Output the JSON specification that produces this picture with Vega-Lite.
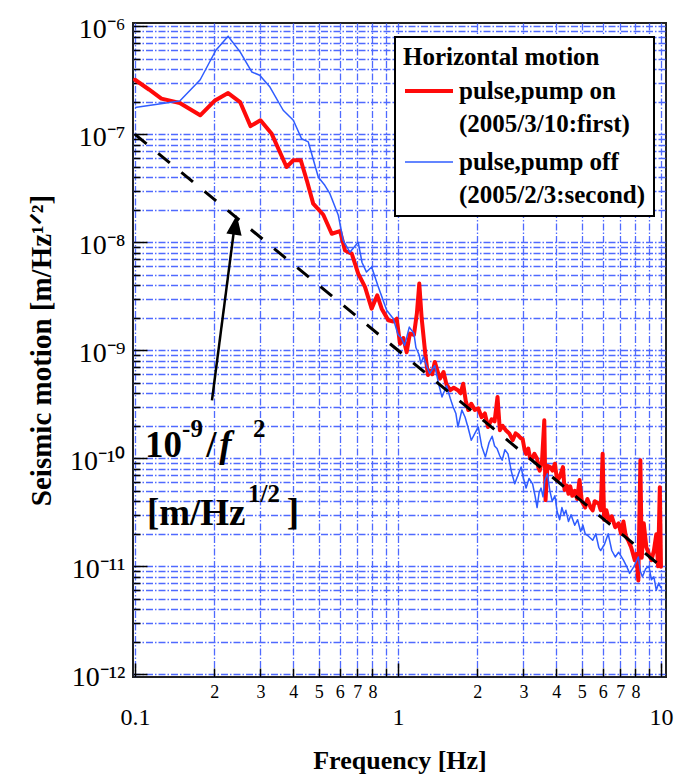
{
  "$schema": "https://vega.github.io/schema/vega-lite/v6.json",
  "width": 533,
  "height": 654,
  "autosize": "none",
  "padding": {"left": 133, "top": 23, "right": 13, "bottom": 99},
  "background": "white",
  "config": {
    "view": {"stroke": "#222222", "strokeWidth": 2},
    "font": "Liberation Serif",
    "style": {"guide-label": {"lineHeight": 33}},
    "legend": {"strokeWidth": 2}
  },
  "datasets": {
    "series": [
      {"f":0.1,"v":3.2e-7,"s":"pulse,pump on"},{"f":0.113,"v":2.6e-7,"s":"pulse,pump on"},{"f":0.126,"v":2.14e-7,"s":"pulse,pump on"},{"f":0.148,"v":1.95e-7,"s":"pulse,pump on"},{"f":0.177,"v":1.5e-7,"s":"pulse,pump on"},{"f":0.2015,"v":2.06e-7,"s":"pulse,pump on"},{"f":0.226,"v":2.41e-7,"s":"pulse,pump on"},{"f":0.251,"v":1.99e-7,"s":"pulse,pump on"},{"f":0.275,"v":1.19e-7,"s":"pulse,pump on"},{"f":0.3,"v":1.35e-7,"s":"pulse,pump on"},{"f":0.331,"v":1.01e-7,"s":"pulse,pump on"},{"f":0.377,"v":4.98e-8,"s":"pulse,pump on"},{"f":0.4,"v":5.75e-8,"s":"pulse,pump on"},{"f":0.427,"v":5.75e-8,"s":"pulse,pump on"},{"f":0.45,"v":3.75e-8,"s":"pulse,pump on"},{"f":0.476,"v":2.28e-8,"s":"pulse,pump on"},{"f":0.52,"v":1.8e-8,"s":"pulse,pump on"},{"f":0.56,"v":1.2e-8,"s":"pulse,pump on"},{"f":0.602,"v":1.27e-8,"s":"pulse,pump on"},{"f":0.629,"v":8.4e-9,"s":"pulse,pump on"},{"f":0.667,"v":7.85e-9,"s":"pulse,pump on"},{"f":0.706,"v":5.13e-9,"s":"pulse,pump on"},{"f":0.749,"v":3.86e-9,"s":"pulse,pump on"},{"f":0.794,"v":2.43e-9,"s":"pulse,pump on"},{"f":0.834,"v":3.23e-9,"s":"pulse,pump on"},{"f":0.867,"v":2.43e-9,"s":"pulse,pump on"},{"f":0.919,"v":1.9e-9,"s":"pulse,pump on"},{"f":0.96,"v":1.85e-9,"s":"pulse,pump on"},{"f":0.989,"v":1.96e-9,"s":"pulse,pump on"},{"f":1.018,"v":1.15e-9,"s":"pulse,pump on"},{"f":1.048,"v":1.3e-9,"s":"pulse,pump on"},{"f":1.079,"v":9.6e-10,"s":"pulse,pump on"},{"f":1.11,"v":1.43e-9,"s":"pulse,pump on"},{"f":1.15,"v":1.39e-9,"s":"pulse,pump on"},{"f":1.18,"v":2.2e-9,"s":"pulse,pump on"},{"f":1.205,"v":4.15e-9,"s":"pulse,pump on"},{"f":1.23,"v":2.0e-9,"s":"pulse,pump on"},{"f":1.27,"v":9.3e-10,"s":"pulse,pump on"},{"f":1.3,"v":5.9e-10,"s":"pulse,pump on"},{"f":1.32,"v":6.5e-10,"s":"pulse,pump on"},{"f":1.35,"v":6.0e-10,"s":"pulse,pump on"},{"f":1.38,"v":7.8e-10,"s":"pulse,pump on"},{"f":1.42,"v":6.2e-10,"s":"pulse,pump on"},{"f":1.445,"v":5.47e-10,"s":"pulse,pump on"},{"f":1.49,"v":6.3e-10,"s":"pulse,pump on"},{"f":1.53,"v":4.8e-10,"s":"pulse,pump on"},{"f":1.58,"v":4.27e-10,"s":"pulse,pump on"},{"f":1.63,"v":4.5e-10,"s":"pulse,pump on"},{"f":1.69,"v":4.27e-10,"s":"pulse,pump on"},{"f":1.73,"v":4.0e-10,"s":"pulse,pump on"},{"f":1.77,"v":4.9e-10,"s":"pulse,pump on"},{"f":1.81,"v":3.4e-10,"s":"pulse,pump on"},{"f":1.85,"v":2.8e-10,"s":"pulse,pump on"},{"f":1.9,"v":3.2e-10,"s":"pulse,pump on"},{"f":1.96,"v":2.8e-10,"s":"pulse,pump on"},{"f":2.02,"v":2.9e-10,"s":"pulse,pump on"},{"f":2.08,"v":2.4e-10,"s":"pulse,pump on"},{"f":2.14,"v":2.6e-10,"s":"pulse,pump on"},{"f":2.2,"v":1.95e-10,"s":"pulse,pump on"},{"f":2.27,"v":2.3e-10,"s":"pulse,pump on"},{"f":2.33,"v":2.2e-10,"s":"pulse,pump on"},{"f":2.39,"v":3.7e-10,"s":"pulse,pump on"},{"f":2.44,"v":1.82e-10,"s":"pulse,pump on"},{"f":2.5,"v":2.0e-10,"s":"pulse,pump on"},{"f":2.57,"v":1.82e-10,"s":"pulse,pump on"},{"f":2.65,"v":1.7e-10,"s":"pulse,pump on"},{"f":2.73,"v":1.47e-10,"s":"pulse,pump on"},{"f":2.8,"v":1.7e-10,"s":"pulse,pump on"},{"f":2.86,"v":1.64e-10,"s":"pulse,pump on"},{"f":2.92,"v":1.55e-10,"s":"pulse,pump on"},{"f":2.98,"v":1.5e-10,"s":"pulse,pump on"},{"f":3.03,"v":1.2e-10,"s":"pulse,pump on"},{"f":3.07,"v":1.1e-10,"s":"pulse,pump on"},{"f":3.13,"v":1.23e-10,"s":"pulse,pump on"},{"f":3.18,"v":1.0e-10,"s":"pulse,pump on"},{"f":3.23,"v":9.9e-11,"s":"pulse,pump on"},{"f":3.3,"v":1.1e-10,"s":"pulse,pump on"},{"f":3.38,"v":9.9e-11,"s":"pulse,pump on"},{"f":3.42,"v":8.2e-11,"s":"pulse,pump on"},{"f":3.46,"v":7.7e-11,"s":"pulse,pump on"},{"f":3.53,"v":9.5e-11,"s":"pulse,pump on"},{"f":3.6,"v":2.25e-10,"s":"pulse,pump on"},{"f":3.64,"v":4.1e-11,"s":"pulse,pump on"},{"f":3.7,"v":8.5e-11,"s":"pulse,pump on"},{"f":3.79,"v":8.3e-11,"s":"pulse,pump on"},{"f":3.87,"v":7.7e-11,"s":"pulse,pump on"},{"f":3.95,"v":8.9e-11,"s":"pulse,pump on"},{"f":4.03,"v":6.2e-11,"s":"pulse,pump on"},{"f":4.12,"v":6.7e-11,"s":"pulse,pump on"},{"f":4.18,"v":7.5e-11,"s":"pulse,pump on"},{"f":4.24,"v":8.3e-11,"s":"pulse,pump on"},{"f":4.3,"v":5.1e-11,"s":"pulse,pump on"},{"f":4.38,"v":5.6e-11,"s":"pulse,pump on"},{"f":4.45,"v":4.7e-11,"s":"pulse,pump on"},{"f":4.52,"v":5.5e-11,"s":"pulse,pump on"},{"f":4.6,"v":4.5e-11,"s":"pulse,pump on"},{"f":4.7,"v":5.0e-11,"s":"pulse,pump on"},{"f":4.8,"v":4.2e-11,"s":"pulse,pump on"},{"f":4.9,"v":6.3e-11,"s":"pulse,pump on"},{"f":5.0,"v":4.0e-11,"s":"pulse,pump on"},{"f":5.15,"v":3.5e-11,"s":"pulse,pump on"},{"f":5.25,"v":4.2e-11,"s":"pulse,pump on"},{"f":5.4,"v":3.5e-11,"s":"pulse,pump on"},{"f":5.5,"v":3.3e-11,"s":"pulse,pump on"},{"f":5.6,"v":4.0e-11,"s":"pulse,pump on"},{"f":5.8,"v":3.8e-11,"s":"pulse,pump on"},{"f":5.9,"v":3.3e-11,"s":"pulse,pump on"},{"f":6.0,"v":1.1e-10,"s":"pulse,pump on"},{"f":6.08,"v":2.7e-11,"s":"pulse,pump on"},{"f":6.2,"v":3.3e-11,"s":"pulse,pump on"},{"f":6.35,"v":2.6e-11,"s":"pulse,pump on"},{"f":6.5,"v":2.9e-11,"s":"pulse,pump on"},{"f":6.7,"v":2.3e-11,"s":"pulse,pump on"},{"f":6.9,"v":2.5e-11,"s":"pulse,pump on"},{"f":7.05,"v":2.0e-11,"s":"pulse,pump on"},{"f":7.2,"v":2.6e-11,"s":"pulse,pump on"},{"f":7.35,"v":1.9e-11,"s":"pulse,pump on"},{"f":7.5,"v":1.74e-11,"s":"pulse,pump on"},{"f":7.7,"v":1.5e-11,"s":"pulse,pump on"},{"f":7.95,"v":1.14e-11,"s":"pulse,pump on"},{"f":8.05,"v":1.3e-11,"s":"pulse,pump on"},{"f":8.2,"v":7.4e-12,"s":"pulse,pump on"},{"f":8.35,"v":9.6e-11,"s":"pulse,pump on"},{"f":8.45,"v":1.2e-11,"s":"pulse,pump on"},{"f":8.6,"v":2.5e-11,"s":"pulse,pump on"},{"f":8.8,"v":1.5e-11,"s":"pulse,pump on"},{"f":9.0,"v":1.3e-11,"s":"pulse,pump on"},{"f":9.2,"v":1.14e-11,"s":"pulse,pump on"},{"f":9.4,"v":1.4e-11,"s":"pulse,pump on"},{"f":9.6,"v":1.98e-11,"s":"pulse,pump on"},{"f":9.75,"v":1.0e-11,"s":"pulse,pump on"},{"f":9.9,"v":5.4e-11,"s":"pulse,pump on"},{"f":10.0,"v":9.9e-12,"s":"pulse,pump on"},
      {"f":0.1,"v":1.77e-7,"s":"pulse,pump off"},{"f":0.148,"v":2.03e-7,"s":"pulse,pump off"},{"f":0.177,"v":3.2e-7,"s":"pulse,pump off"},{"f":0.203,"v":6.0e-7,"s":"pulse,pump off"},{"f":0.226,"v":8.1e-7,"s":"pulse,pump off"},{"f":0.251,"v":5.8e-7,"s":"pulse,pump off"},{"f":0.278,"v":3.78e-7,"s":"pulse,pump off"},{"f":0.298,"v":3.52e-7,"s":"pulse,pump off"},{"f":0.326,"v":2.74e-7,"s":"pulse,pump off"},{"f":0.366,"v":1.67e-7,"s":"pulse,pump off"},{"f":0.4,"v":1.35e-7,"s":"pulse,pump off"},{"f":0.43,"v":9.1e-8,"s":"pulse,pump off"},{"f":0.456,"v":8.5e-8,"s":"pulse,pump off"},{"f":0.498,"v":4.0e-8,"s":"pulse,pump off"},{"f":0.527,"v":3.37e-8,"s":"pulse,pump off"},{"f":0.551,"v":2.82e-8,"s":"pulse,pump off"},{"f":0.593,"v":1.78e-8,"s":"pulse,pump off"},{"f":0.619,"v":1.04e-8,"s":"pulse,pump off"},{"f":0.656,"v":8.1e-9,"s":"pulse,pump off"},{"f":0.706,"v":1.0e-8,"s":"pulse,pump off"},{"f":0.73,"v":6.5e-9,"s":"pulse,pump off"},{"f":0.759,"v":5.3e-9,"s":"pulse,pump off"},{"f":0.794,"v":5.9e-9,"s":"pulse,pump off"},{"f":0.842,"v":3.86e-9,"s":"pulse,pump off"},{"f":0.906,"v":2.35e-9,"s":"pulse,pump off"},{"f":0.96,"v":1.96e-9,"s":"pulse,pump off"},{"f":1.0,"v":1.4e-9,"s":"pulse,pump off"},{"f":1.03,"v":1.3e-9,"s":"pulse,pump off"},{"f":1.06,"v":1.11e-9,"s":"pulse,pump off"},{"f":1.104,"v":1.64e-9,"s":"pulse,pump off"},{"f":1.15,"v":1.43e-9,"s":"pulse,pump off"},{"f":1.17,"v":1.06e-9,"s":"pulse,pump off"},{"f":1.205,"v":9e-10,"s":"pulse,pump off"},{"f":1.22,"v":7.5e-10,"s":"pulse,pump off"},{"f":1.25,"v":8.7e-10,"s":"pulse,pump off"},{"f":1.29,"v":7.0e-10,"s":"pulse,pump off"},{"f":1.32,"v":6.1e-10,"s":"pulse,pump off"},{"f":1.38,"v":7.2e-10,"s":"pulse,pump off"},{"f":1.43,"v":4.8e-10,"s":"pulse,pump off"},{"f":1.47,"v":3.7e-10,"s":"pulse,pump off"},{"f":1.53,"v":4.7e-10,"s":"pulse,pump off"},{"f":1.58,"v":3.6e-10,"s":"pulse,pump off"},{"f":1.62,"v":3.0e-10,"s":"pulse,pump off"},{"f":1.66,"v":2.6e-10,"s":"pulse,pump off"},{"f":1.69,"v":1.95e-10,"s":"pulse,pump off"},{"f":1.75,"v":2.8e-10,"s":"pulse,pump off"},{"f":1.8,"v":2.4e-10,"s":"pulse,pump off"},{"f":1.85,"v":1.9e-10,"s":"pulse,pump off"},{"f":1.9,"v":1.47e-10,"s":"pulse,pump off"},{"f":1.96,"v":1.7e-10,"s":"pulse,pump off"},{"f":2.02,"v":1.95e-10,"s":"pulse,pump off"},{"f":2.08,"v":1.3e-10,"s":"pulse,pump off"},{"f":2.15,"v":1.03e-10,"s":"pulse,pump off"},{"f":2.22,"v":1.4e-10,"s":"pulse,pump off"},{"f":2.28,"v":1.6e-10,"s":"pulse,pump off"},{"f":2.33,"v":1.3e-10,"s":"pulse,pump off"},{"f":2.38,"v":1.23e-10,"s":"pulse,pump off"},{"f":2.44,"v":1.05e-10,"s":"pulse,pump off"},{"f":2.49,"v":9.6e-11,"s":"pulse,pump off"},{"f":2.55,"v":1.2e-10,"s":"pulse,pump off"},{"f":2.62,"v":1.1e-10,"s":"pulse,pump off"},{"f":2.7,"v":7.5e-11,"s":"pulse,pump off"},{"f":2.78,"v":5.8e-11,"s":"pulse,pump off"},{"f":2.86,"v":7.0e-11,"s":"pulse,pump off"},{"f":2.94,"v":8.3e-11,"s":"pulse,pump off"},{"f":3.0,"v":6.5e-11,"s":"pulse,pump off"},{"f":3.07,"v":5.3e-11,"s":"pulse,pump off"},{"f":3.15,"v":6.5e-11,"s":"pulse,pump off"},{"f":3.25,"v":5.8e-11,"s":"pulse,pump off"},{"f":3.32,"v":4.5e-11,"s":"pulse,pump off"},{"f":3.38,"v":3.5e-11,"s":"pulse,pump off"},{"f":3.44,"v":4.8e-11,"s":"pulse,pump off"},{"f":3.5,"v":5.3e-11,"s":"pulse,pump off"},{"f":3.56,"v":4.4e-11,"s":"pulse,pump off"},{"f":3.62,"v":6.3e-11,"s":"pulse,pump off"},{"f":3.7,"v":7.2e-11,"s":"pulse,pump off"},{"f":3.78,"v":5.0e-11,"s":"pulse,pump off"},{"f":3.86,"v":4.0e-11,"s":"pulse,pump off"},{"f":3.95,"v":4.5e-11,"s":"pulse,pump off"},{"f":4.03,"v":3.2e-11,"s":"pulse,pump off"},{"f":4.12,"v":2.7e-11,"s":"pulse,pump off"},{"f":4.2,"v":3.5e-11,"s":"pulse,pump off"},{"f":4.28,"v":3.0e-11,"s":"pulse,pump off"},{"f":4.35,"v":3.3e-11,"s":"pulse,pump off"},{"f":4.45,"v":2.6e-11,"s":"pulse,pump off"},{"f":4.55,"v":3.0e-11,"s":"pulse,pump off"},{"f":4.7,"v":2.4e-11,"s":"pulse,pump off"},{"f":4.82,"v":2.7e-11,"s":"pulse,pump off"},{"f":4.95,"v":2.1e-11,"s":"pulse,pump off"},{"f":5.05,"v":2.4e-11,"s":"pulse,pump off"},{"f":5.15,"v":2.0e-11,"s":"pulse,pump off"},{"f":5.3,"v":1.9e-11,"s":"pulse,pump off"},{"f":5.5,"v":1.74e-11,"s":"pulse,pump off"},{"f":5.65,"v":2.0e-11,"s":"pulse,pump off"},{"f":5.8,"v":1.5e-11,"s":"pulse,pump off"},{"f":5.9,"v":1.4e-11,"s":"pulse,pump off"},{"f":6.1,"v":1.6e-11,"s":"pulse,pump off"},{"f":6.3,"v":2.0e-11,"s":"pulse,pump off"},{"f":6.5,"v":1.4e-11,"s":"pulse,pump off"},{"f":6.7,"v":1.22e-11,"s":"pulse,pump off"},{"f":6.9,"v":1.35e-11,"s":"pulse,pump off"},{"f":7.2,"v":1.14e-11,"s":"pulse,pump off"},{"f":7.4,"v":1.0e-11,"s":"pulse,pump off"},{"f":7.6,"v":8.6e-12,"s":"pulse,pump off"},{"f":7.9,"v":1.0e-11,"s":"pulse,pump off"},{"f":8.2,"v":1.22e-11,"s":"pulse,pump off"},{"f":8.35,"v":9.0e-12,"s":"pulse,pump off"},{"f":8.5,"v":8e-12,"s":"pulse,pump off"},{"f":8.75,"v":9.5e-12,"s":"pulse,pump off"},{"f":9.0,"v":1.0e-11,"s":"pulse,pump off"},{"f":9.2,"v":7.5e-12,"s":"pulse,pump off"},{"f":9.4,"v":8.0e-12,"s":"pulse,pump off"},{"f":9.6,"v":6e-12,"s":"pulse,pump off"},{"f":9.8,"v":7.0e-12,"s":"pulse,pump off"},{"f":10.0,"v":6.3e-12,"s":"pulse,pump off"}
    ]
  },
  "layer": [
    {
      "data": {"name": "series"},
      "transform": [{"filter": "datum.s == 'pulse,pump on'"}],
      "mark": {"type": "line", "strokeJoin": "round", "strokeCap": "round"},
      "encoding": {
        "x": {
          "field": "f", "type": "quantitative",
          "scale": {"type": "log", "domain": [0.09827, 10.45], "nice": false},
          "axis": {
            "title": "Frequency [Hz]",
            "values": [0.1,0.2,0.3,0.4,0.5,0.6,0.7,0.8,0.9,1,2,3,4,5,6,7,8,9,10],
            "labelExpr": "abs(log(datum.value)/LN10 - round(log(datum.value)/LN10)) < 0.001 ? (datum.value < 0.5 ? '0.1' : (datum.value < 5 ? '1' : '10')) : (round(datum.value / pow(10, floor(log(datum.value)/LN10 + 1e-9))) == 9 ? '' : '' + round(datum.value / pow(10, floor(log(datum.value)/LN10 + 1e-9))))",
            "grid": true, "gridColor": "#4f6aff", "gridWidth": 1.3, "gridDash": [7, 2, 1.5, 2], "gridOpacity": 1,
            "domain": false,
            "tickColor": "black", "tickWidth": 1.5,
            "tickSize": {"condition": {"test": "abs(log(datum.value)/LN10 - round(log(datum.value)/LN10)) < 0.001", "value": -14}, "value": -9},
            "labelFont": "Liberation Serif", "labelColor": "black",
            "labelFontSize": {"condition": {"test": "abs(log(datum.value)/LN10 - round(log(datum.value)/LN10)) < 0.001", "value": 24}, "value": 18},
            "labelPadding": {"condition": {"test": "abs(log(datum.value)/LN10 - round(log(datum.value)/LN10)) < 0.001", "value": 42}, "value": 15},
            "labelOverlap": false, "labelFlush": false, "labelBound": false,
            "titleFont": "Liberation Serif", "titleFontSize": 26, "titleFontWeight": "bold", "titleColor": "black",
            "titleY": 91, "titleBaseline": "alphabetic"
          }
        },
        "y": {
          "field": "v", "type": "quantitative",
          "scale": {"type": "log", "domain": [9.44e-13, 1.073e-6], "nice": false},
          "axis": {
            "title": "Seismic motion [m/Hz¹ᐟ²]",
            "values": [1e-12,2e-12,3e-12,4e-12,5e-12,6e-12,7e-12,8e-12,9e-12,1e-11,2e-11,3e-11,4e-11,5e-11,6e-11,7e-11,8e-11,9e-11,1e-10,2e-10,3e-10,4e-10,5e-10,6e-10,7e-10,8e-10,9e-10,1e-9,2e-9,3e-9,4e-9,5e-9,6e-9,7e-9,8e-9,9e-9,1e-8,2e-8,3e-8,4e-8,5e-8,6e-8,7e-8,8e-8,9e-8,1e-7,2e-7,3e-7,4e-7,5e-7,6e-7,7e-7,8e-7,9e-7,1e-6],
            "labelExpr": "abs(log(datum.value)/LN10 - round(log(datum.value)/LN10)) > 0.001 ? '' : ['10⁻¹²','10⁻¹¹','10⁻¹⁰','10⁻⁹','10⁻⁸','10⁻⁷','10⁻⁶'][round(log(datum.value)/LN10) + 12]",
            "grid": true, "gridColor": "#4f6aff", "gridWidth": 1.3, "gridDash": [7, 2, 1.5, 2], "gridOpacity": 1,
            "domain": false,
            "tickColor": "black", "tickWidth": 1.5,
            "tickSize": {"condition": {"test": "abs(log(datum.value)/LN10 - round(log(datum.value)/LN10)) < 0.001", "value": -14}, "value": -7},
            "labelFont": "Liberation Serif", "labelFontSize": 28, "labelColor": "black", "labelPadding": 22, "labelOffset": 3,
            "labelOverlap": false, "labelFlush": false, "labelBound": false,
            "titleFont": "Liberation Serif", "titleFontSize": 29, "titleFontWeight": "bold", "titleColor": "black",
            "titleX": -83, "titleBaseline": "alphabetic"
          }
        },
        "color": {
          "field": "s", "type": "nominal",
          "scale": {"domain": ["pulse,pump on", "pulse,pump off"], "range": ["#ff0a0a", "#2f5cff"]},
          "legend": {
            "title": "Horizontal motion", "titleLimit": 400,
            "orient": "none", "legendX": 262, "legendY": 14,
            "titleFont": "Liberation Serif", "titleFontSize": 25, "titleFontWeight": "bold", "titleColor": "black", "titlePadding": -5,
            "labelFont": "Liberation Serif", "labelFontSize": 25, "labelFontWeight": "bold", "labelColor": "black",
            "labelLimit": 400, "symbolType": "stroke", "symbolSize": 2304,
            "fillColor": "white", "strokeColor": "black", "padding": 8, "rowPadding": -8,
            "labelExpr": "datum.label == 'pulse,pump on' ? ['pulse,pump on', '(2005/3/10:first)'] : ['pulse,pump off', '(2005/2/3:second)']"
          }
        },
        "strokeWidth": {
          "field": "s", "type": "nominal",
          "scale": {"domain": ["pulse,pump on", "pulse,pump off"], "range": [4, 1.5]},
          "legend": {
            "title": "Horizontal motion", "titleLimit": 400,
            "orient": "none", "legendX": 262, "legendY": 14,
            "titleFont": "Liberation Serif", "titleFontSize": 25, "titleFontWeight": "bold", "titleColor": "black", "titlePadding": -5,
            "labelFont": "Liberation Serif", "labelFontSize": 25, "labelFontWeight": "bold", "labelColor": "black",
            "labelLimit": 400, "symbolType": "stroke", "symbolSize": 2304,
            "fillColor": "white", "strokeColor": "black", "padding": 8, "rowPadding": -8,
            "labelExpr": "datum.label == 'pulse,pump on' ? ['pulse,pump on', '(2005/3/10:first)'] : ['pulse,pump off', '(2005/2/3:second)']"
          }
        }
      }
    },
    {
      "data": {"name": "series"},
      "transform": [{"filter": "datum.s == 'pulse,pump off'"}],
      "mark": {"type": "line", "strokeJoin": "round"},
      "encoding": {
        "x": {"field": "f", "type": "quantitative"},
        "y": {"field": "v", "type": "quantitative"},
        "color": {"field": "s", "type": "nominal"},
        "strokeWidth": {"field": "s", "type": "nominal"}
      }
    },
    {
      "data": {"values": [{"f": 0.1, "v": 1e-7}, {"f": 10, "v": 1e-11}]},
      "mark": {"type": "line", "color": "black", "strokeWidth": 3, "strokeDash": [15, 15]},
      "encoding": {
        "x": {"field": "f", "type": "quantitative"},
        "y": {"field": "v", "type": "quantitative"}
      }
    },
    {
      "data": {"values": [{"f": 0.1962, "v": 3.44e-10}, {"f": 0.2398, "v": 1.5e-8}]},
      "mark": {"type": "line", "color": "black", "strokeWidth": 2.5},
      "encoding": {
        "x": {"field": "f", "type": "quantitative"},
        "y": {"field": "v", "type": "quantitative"}
      }
    },
    {
      "data": {"values": [{"f": 0.2405, "v": 1.42e-8}]},
      "mark": {"type": "point", "shape": "M0,-1L0.7,0.8L-0.7,0.8Z", "filled": true, "color": "black", "opacity": 1, "size": 484, "angle": 8},
      "encoding": {
        "x": {"field": "f", "type": "quantitative"},
        "y": {"field": "v", "type": "quantitative"}
      }
    },
    {
      "data": {"values": [
        {"f": 0.1091, "v": 1.02e-10, "t": "10"},
        {"f": 0.1865, "v": 1.02e-10, "t": "/"},
        {"f": 0.111, "v": 2.4e-11, "t": "[m/Hz"},
        {"f": 0.378, "v": 2.4e-11, "t": "]"}
      ]},
      "mark": {"type": "text", "font": "Liberation Serif", "fontSize": 37, "fontWeight": "bold", "color": "black", "align": "left", "baseline": "alphabetic"},
      "encoding": {
        "x": {"field": "f", "type": "quantitative"},
        "y": {"field": "v", "type": "quantitative"},
        "text": {"field": "t"}
      }
    },
    {
      "data": {"values": [
        {"f": 0.209, "v": 1.02e-10, "t": "f"}
      ]},
      "mark": {"type": "text", "font": "Liberation Serif", "fontSize": 37, "fontWeight": "bold", "fontStyle": "italic", "color": "black", "align": "left", "baseline": "alphabetic"},
      "encoding": {
        "x": {"field": "f", "type": "quantitative"},
        "y": {"field": "v", "type": "quantitative"},
        "text": {"field": "t"}
      }
    },
    {
      "data": {"values": [
        {"f": 0.151, "v": 1.56e-10, "t": "-9"},
        {"f": 0.281, "v": 1.56e-10, "t": "2"},
        {"f": 0.269, "v": 3.9e-11, "t": "1/2"}
      ]},
      "mark": {"type": "text", "font": "Liberation Serif", "fontSize": 25, "fontWeight": "bold", "color": "black", "align": "left", "baseline": "alphabetic"},
      "encoding": {
        "x": {"field": "f", "type": "quantitative"},
        "y": {"field": "v", "type": "quantitative"},
        "text": {"field": "t"}
      }
    }
  ]
}
